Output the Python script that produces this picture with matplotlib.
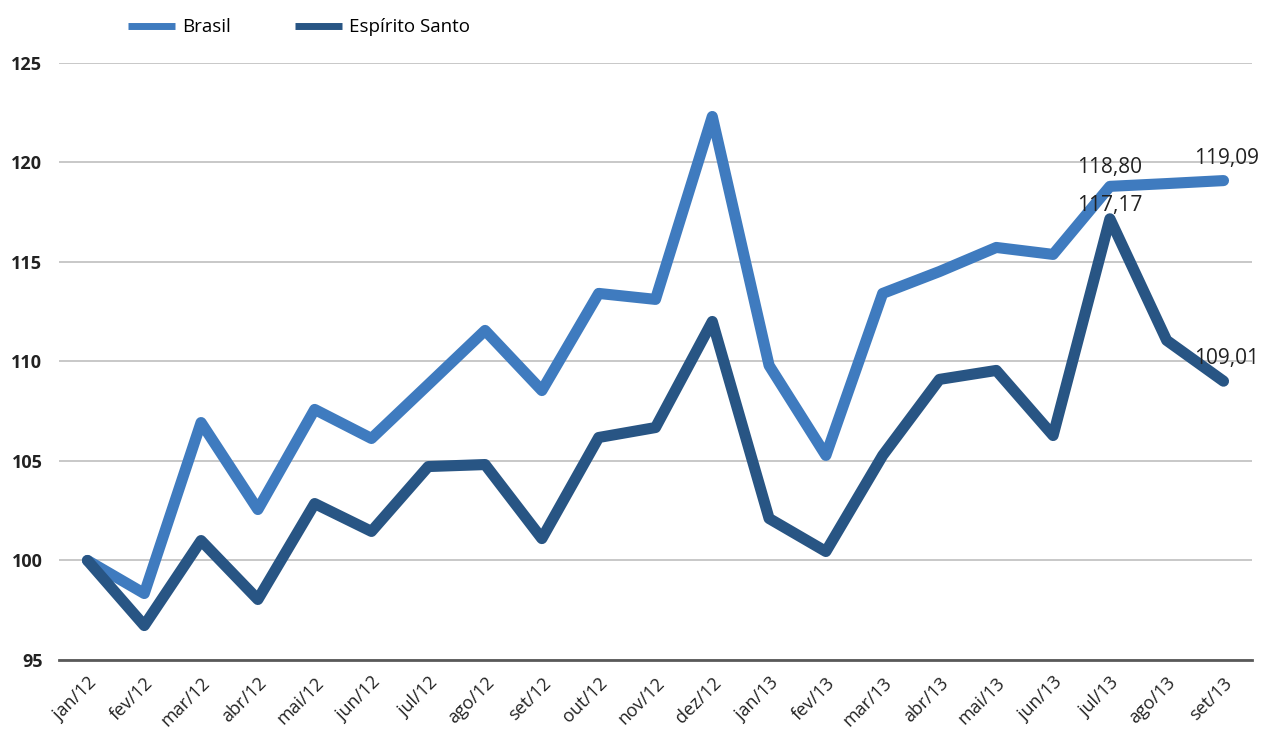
import matplotlib
matplotlib.use("Agg")
import matplotlib.pyplot as plt
from matplotlib.transforms import ScaledTranslation

months = ["jan/12", "fev/12", "mar/12", "abr/12", "mai/12", "jun/12", "jul/12",
          "ago/12", "set/12", "out/12", "nov/12", "dez/12", "jan/13", "fev/13",
          "mar/13", "abr/13", "mai/13", "jun/13", "jul/13", "ago/13", "set/13"]
brasil = [100.0, 98.34, 106.93, 102.56, 107.59, 106.13, 108.84, 111.56, 108.54,
          113.42, 113.12, 122.31, 109.80, 105.28, 113.42, 114.52, 115.73, 115.38,
          118.80, 118.94, 119.09]
es = [100.0, 96.73, 101.00, 98.04, 102.86, 101.46, 104.72, 104.82, 101.10,
      106.18, 106.68, 112.01, 102.11, 100.45, 105.28, 109.10, 109.55, 106.28,
      117.17, 111.06, 109.01]
yticks = [95, 100, 105, 110, 115, 120, 125]

c_br = "#3F7BBF"
c_es = "#285584"

plt.rcParams['font.family'] = ['Open Sans', 'DejaVu Sans']

fig = plt.figure(figsize=(12.62, 7.29), dpi=100)
ax = fig.add_axes([0.0468, 0.0947, 0.992 - 0.0468, 0.9136 - 0.0947])

x = list(range(len(months)))
ax.plot(x, brasil, color=c_br, lw=8, solid_capstyle='round', solid_joinstyle='round',
        label="Brasil", zorder=3)
ax.plot(x, es, color=c_es, lw=8, solid_capstyle='round', solid_joinstyle='round',
        label="Espírito Santo", zorder=4)

ax.set_xlim(-0.5, len(months) - 0.5)
ax.set_ylim(95, 125)
ax.set_yticks(yticks)
ax.set_yticklabels([str(v) for v in yticks], fontsize=13, fontweight='bold', color='#222222')
ax.set_xticks(x)
ax.set_xticklabels(months, rotation=45, ha='right', rotation_mode='anchor',
                   fontsize=13, color='#222222')
off = ScaledTranslation(14 / 100, 0, fig.dpi_scale_trans)
for t in ax.get_xticklabels():
    t.set_transform(t.get_transform() + off)
ax.tick_params(axis='both', length=0)
ax.tick_params(axis='y', pad=12)
ax.tick_params(axis='x', pad=10)

ax.grid(axis='y', color='#BFBFBF', lw=1.2)
ax.set_axisbelow(True)
for s in ['top', 'right', 'left']:
    ax.spines[s].set_visible(False)
ax.spines['bottom'].set_color('#595959')
ax.spines['bottom'].set_linewidth(2)

def lab(i, series, dx, dy, ha='center'):
    v = series[i]
    ax.annotate(f"{v:.2f}".replace('.', ','), (i, v), xytext=(dx, dy),
                textcoords='offset points', ha=ha, va='bottom', fontsize=15,
                color='#222222', zorder=5)

lab(18, brasil, 0, 6)
lab(20, brasil, 2, 8)
lab(18, es, 0, 2)
lab(20, es, 2, 9)

leg = fig.legend(loc='upper left', bbox_to_anchor=(0.088, 0.998), ncol=2, frameon=False,
                 fontsize=13.5, handlelength=2.5, columnspacing=3.4, handletextpad=0.4)
for h in leg.get_lines():
    h.set_linewidth(5)
    h.set_solid_capstyle('butt')

fig.savefig("out.png", dpi=100, facecolor='white')
